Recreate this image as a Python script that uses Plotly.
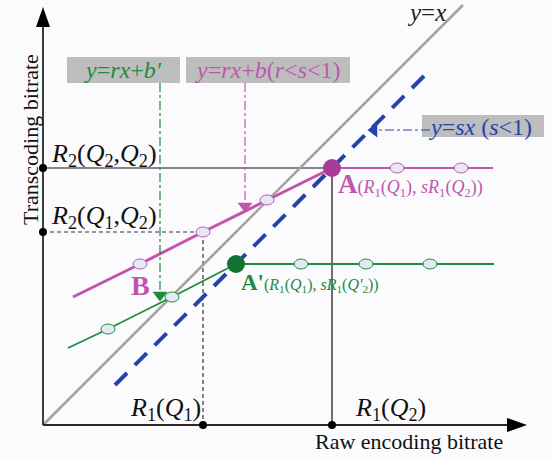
import plotly.graph_objects as go

# ---- data (diagram coordinates, origin at axes origin) ----
x_axis_end = 484
y_axis_end = 418
identity_x = [0, 420]
identity_y = [0, 420]
R1_Q1 = 160
R1_Q2 = 289
R2_Q2Q2 = 257
R2_Q1Q2 = 193
blue_x = [72, 388]
blue_offset = 32
mag_x = [30, 97, 160, 224, 289]
mag_y = [128, 161, 193, 225, 257]
mag_flat_x = [289, 354, 418, 450]
grn_x = [25, 65, 129, 193]
grn_y = [77, 96, 128, 161]
grn_flat_x = [193, 258, 323, 387, 451]

MAG = "#c055b0"
MAGD = "#a93c99"
GRN = "#1c8c3e"
GRND = "#127233"
BLU = "#2244b0"
GRY = "#a3a3a3"
BOX = "#bdbdbd"
AX = "#2e2622"
FONT = "Liberation Serif"

fig = go.Figure()

def line(xs, ys, color, width, dash="solid"):
    fig.add_trace(go.Scatter(x=xs, y=ys, mode="lines", hoverinfo="skip",
                             line=dict(color=color, width=width, dash=dash)))

# reference lines
line([0, R1_Q2, R1_Q2], [R2_Q2Q2, R2_Q2Q2, 0], "#111111", 1.2)
line([0, R1_Q1, R1_Q1], [R2_Q1Q2, R2_Q1Q2, 0], "#333333", 1.2, "4px,3px")

# y = x
line(identity_x, identity_y, GRY, 2.6)
# blue dashed y = sx
line(blue_x, [v - blue_offset for v in blue_x], BLU, 4, "17px,11px")

# magenta and green curves
line(mag_x, mag_y, MAG, 3)
line(mag_flat_x, [mag_y[-1]] * len(mag_flat_x), MAG, 2)
line(grn_x, grn_y, GRN, 1.8)
line(grn_flat_x, [grn_y[-1]] * len(grn_flat_x), GRN, 1.8)

# axes
line([0, x_axis_end - 15], [0, 0], AX, 1.8)
line([0, 0], [0, y_axis_end - 15], AX, 1.8)

shapes = []
shapes.append(dict(type="path", xref="x", yref="y", fillcolor="#000000", line=dict(width=0),
                   path=f"M {x_axis_end} 0 L {x_axis_end-20} 7 L {x_axis_end-20} -7 Z"))
shapes.append(dict(type="path", xref="x", yref="y", fillcolor="#000000", line=dict(width=0),
                   path=f"M 0 {y_axis_end} L -7 {y_axis_end-20} L 7 {y_axis_end-20} Z"))

boxes = [(24, 137, 342, 368), (143, 307, 342, 368), (379, 501, 288, 310)]
for x0, x1, y0, y1 in boxes:
    shapes.append(dict(type="rect", xref="x", yref="y", x0=x0, x1=x1, y0=y0, y1=y1,
                       fillcolor=BOX, line=dict(width=0), layer="below"))

def ellipse(x, y, color):
    shapes.append(dict(type="circle", xref="x", yref="y", x0=x - 7, x1=x + 7, y0=y - 5, y1=y + 5,
                       fillcolor="#e4eaf4", line=dict(color=color, width=1)))

for xx, yy in zip(mag_x[1:-1], mag_y[1:-1]):
    ellipse(xx, yy, MAG)
for xx in mag_flat_x[1:-1]:
    ellipse(xx, mag_y[-1], MAG)
for xx, yy in zip(grn_x[1:-1], grn_y[1:-1]):
    ellipse(xx, yy, GRN)
for xx in grn_flat_x[1:-1]:
    ellipse(xx, grn_y[-1], GRN)

for (xx, yy, c) in [(mag_x[-1], mag_y[-1], MAGD), (grn_x[-1], grn_y[-1], GRND)]:
    shapes.append(dict(type="circle", xref="x", yref="y", x0=xx - 9, x1=xx + 9, y0=yy - 9, y1=yy + 9,
                       fillcolor=c, line=dict(width=0)))

fig.add_trace(go.Scatter(x=[0, 0, R1_Q1, R1_Q2], y=[R2_Q2Q2, R2_Q1Q2, 0, 0], mode="markers",
                         hoverinfo="skip", marker=dict(color="#000000", size=8)))

# pointer arrows (dash-dot)
line([117, 117], [342, 133], GRN, 1.2, "dashdot")
line([202, 202], [342, 222], MAG, 1.2, "dashdot")
line([387, 333], [295, 295], BLU, 1.2, "dashdot")
fig.add_trace(go.Scatter(x=[117], y=[130], mode="markers", hoverinfo="skip",
                         marker=dict(symbol="triangle-down", size=13, color=GRN)))
fig.add_trace(go.Scatter(x=[202], y=[219], mode="markers", hoverinfo="skip",
                         marker=dict(symbol="triangle-down", size=13, color=MAG)))
fig.add_trace(go.Scatter(x=[331], y=[295], mode="markers", hoverinfo="skip",
                         marker=dict(symbol="triangle-left", size=13, color=BLU)))

ann = []
def text(x, y, s, size, color="#111111", xanchor="center", textangle=0):
    ann.append(dict(x=x, y=y, xref="x", yref="y", text=s, showarrow=False, xanchor=xanchor,
                    yanchor="middle", textangle=textangle,
                    font=dict(family=FONT, size=size, color=color)))

text(80, 355, "<i>y</i>=<i>rx</i>+<i>b′</i>", 24, GRN)
text(225, 355, "<i>y</i>=<i>rx</i>+<i>b</i>(<i>r</i>&lt;<i>s</i>&lt;1)", 24, MAG)
text(437, 298, "<i>y</i>=<i>sx</i> (<i>s</i>&lt;1)", 24, BLU)
text(383, 413, "<i>y</i>=<i>x</i>", 25, "#222222")
text(6, 270, "<i>R</i><sub>2</sub>(<i>Q</i><sub>2</sub>,<i>Q</i><sub>2</sub>)", 26, xanchor="left")
text(6, 208, "<i>R</i><sub>2</sub>(<i>Q</i><sub>1</sub>,<i>Q</i><sub>2</sub>)", 26, xanchor="left")
text(122, 16, "<i>R</i><sub>1</sub>(<i>Q</i><sub>1</sub>)", 26)
text(347, 16, "<i>R</i><sub>1</sub>(<i>Q</i><sub>2</sub>)", 26)
text(366, -16, "Raw encoding bitrate", 22)
text(-13, 285, "Transcoding bitrate", 22, textangle=-90)
text(293, 241, "<b><span style='font-size:27px'>A</span></b>(<i>R</i><sub>1</sub>(<i>Q</i><sub>1</sub>), <i>sR</i><sub>1</sub>(<i>Q</i><sub>2</sub>))",
     18, MAG, xanchor="left")
text(97, 140, "<b>B</b>", 28, MAG)
text(196, 143, "<b><span style='font-size:23px'>A'</span></b>(<i>R</i><sub>1</sub>(<i>Q</i><sub>1</sub>), <i>sR</i><sub>1</sub>(<i>Q'</i><sub>2</sub>))",
     16, GRN, xanchor="left")

fig.update_layout(
    width=551, height=459, margin=dict(l=0, r=0, t=0, b=0),
    paper_bgcolor="#fbfbfd", plot_bgcolor="#fbfbfd", showlegend=False,
    xaxis=dict(range=[-43, 508], visible=False, fixedrange=True),
    yaxis=dict(range=[-34, 425], visible=False, fixedrange=True),
    shapes=shapes, annotations=ann,
)
fig.write_html("out.html", config={"displayModeBar": False},
               post_script="document.body.style.margin='0px';")
